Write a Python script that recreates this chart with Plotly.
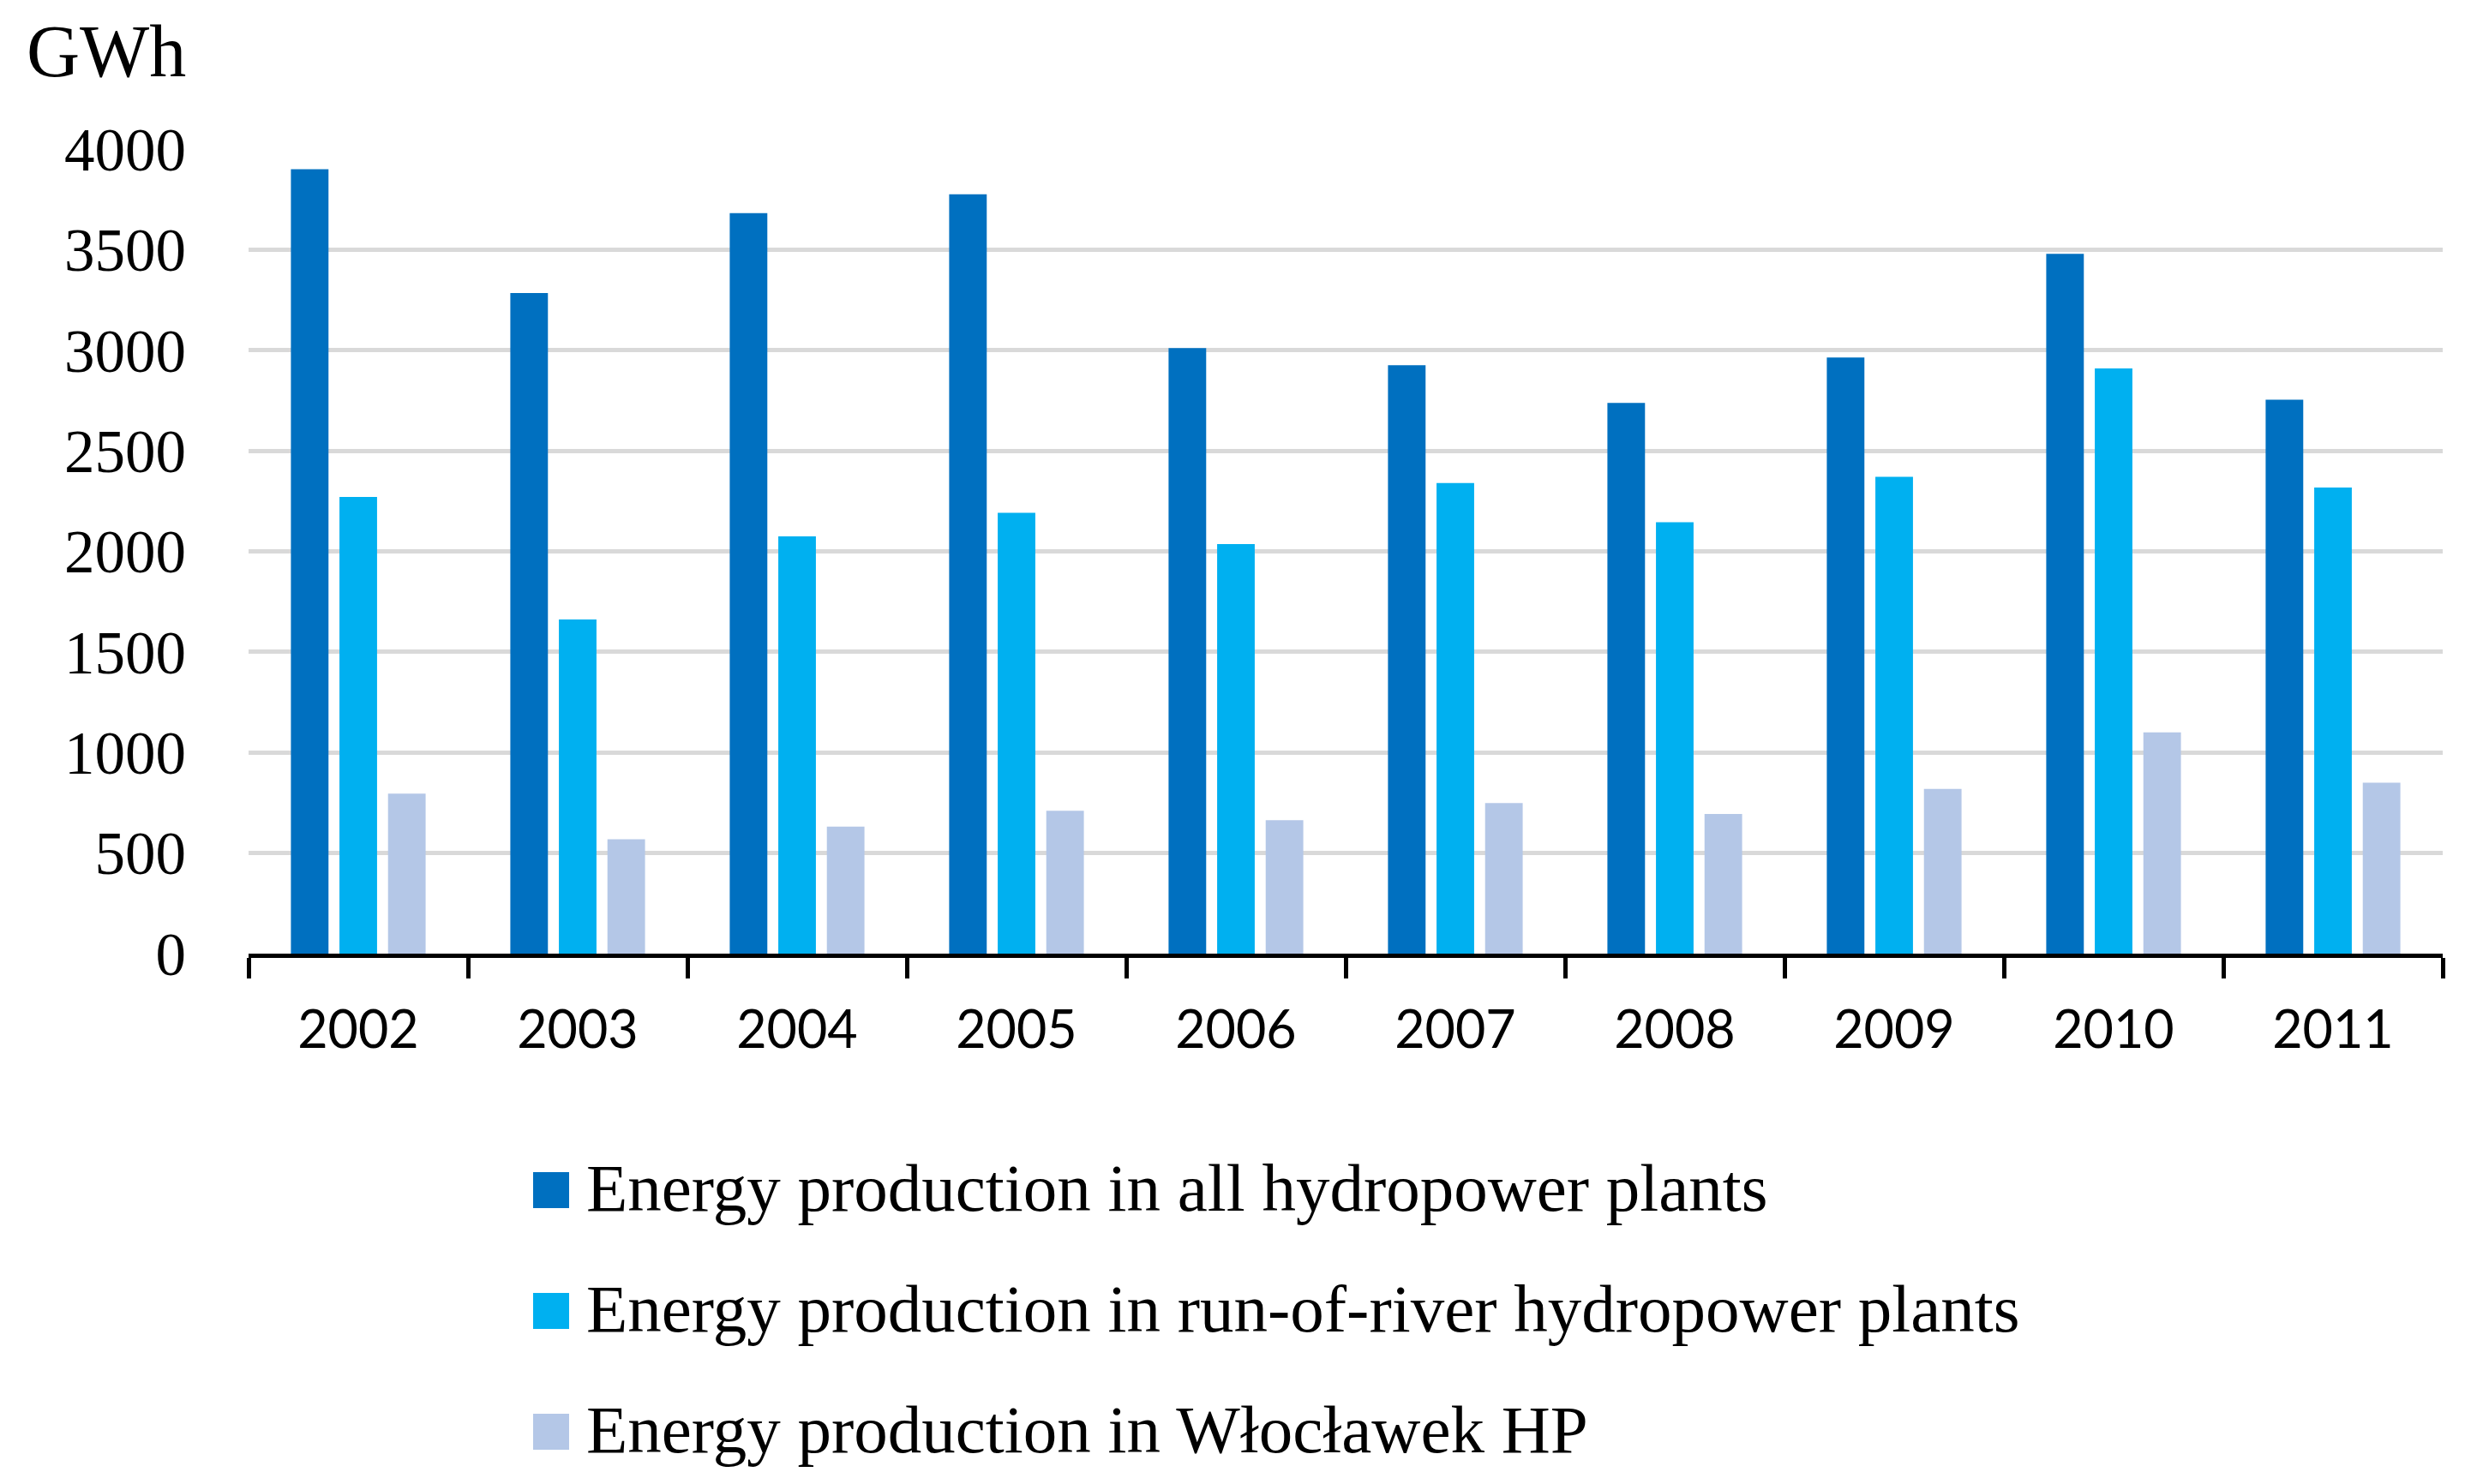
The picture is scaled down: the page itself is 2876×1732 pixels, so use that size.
import plotly.graph_objects as go

years = ["2002", "2003", "2004", "2005", "2006", "2007", "2008", "2009", "2010", "2011"]
all_hp = [3900, 3284, 3682, 3775, 3011, 2925, 2738, 2964, 3479, 2754]
run_of_river = [2270, 1661, 2075, 2192, 2036, 2340, 2145, 2371, 2910, 2317]
wloclawek = [796, 569, 632, 710, 663, 749, 694, 819, 1100, 850]
series_names = [
    "Energy production in all hydropower plants",
    "Energy production in run-of-river hydropower plants",
    "Energy production in Włocławek HP",
]
colors = ["#0070C0", "#00B0F0", "#B4C7E7"]
y_ticks = [0, 500, 1000, 1500, 2000, 2500, 3000, 3500, 4000]

W, H = 2876, 1732
OFF = 8  # page body margin offset
ML, MR, MT, MB = 290 - OFF, 26 + OFF, 174 - OFF, 619 + OFF
PW, PH = W - ML - MR, H - MT - MB

SERIF = "Liberation Serif"
SANS = "Lato"

fig = go.Figure()
for name, vals, col in zip(series_names, [all_hp, run_of_river, wloclawek], colors):
    fig.add_trace(go.Bar(x=years, y=vals, name=name, marker=dict(color=col, line=dict(width=0)),
                         showlegend=False))

def px_x(p):
    return (p - OFF - ML) / PW

def px_y(p):
    return (H - MB - (p - OFF)) / PH

# custom legend (large swatches as in the reference)
legend_rows = [1389, 1530, 1671]
sw = 42
for name, col, cy in zip(series_names, colors, legend_rows):
    fig.add_shape(type="rect", xref="paper", yref="paper",
                  x0=px_x(622), x1=px_x(622 + sw), y0=px_y(cy + sw / 2), y1=px_y(cy - sw / 2),
                  fillcolor=col, line=dict(width=0))
    fig.add_annotation(xref="paper", yref="paper", x=px_x(682), y=px_y(cy - 3),
                       text=name, showarrow=False, xanchor="left", yanchor="middle",
                       font=dict(family=SERIF, size=79, color="#000000"))

fig.add_annotation(xref="paper", yref="paper", x=px_x(218), y=px_y(60), text="GWh",
                   showarrow=False, xanchor="right", yanchor="middle", borderpad=0,
                   font=dict(family=SERIF, size=86, color="#000000"))

fig.update_layout(
    width=W, height=H,
    margin=dict(l=ML, r=MR, t=MT, b=MB, pad=0),
    paper_bgcolor="white", plot_bgcolor="white",
    barmode="group", bargap=0.336, bargroupgap=0.226,
)
fig.update_xaxes(
    type="category", showline=True, linecolor="#000000", linewidth=5,
    ticks="outside", tickson="boundaries", ticklen=24, tickwidth=5, tickcolor="#000000",
    showgrid=False, tickfont=dict(family=SANS, size=61, color="#000000"),
    ticklabelstandoff=32,
)
fig.update_yaxes(
    range=[0, 4000], tickvals=y_ticks, ticktext=[str(v) for v in y_ticks],
    showgrid=True, gridcolor="#D9D9D9", gridwidth=5, zeroline=False, showline=False,
    ticks="", tickfont=dict(family=SERIF, size=71, color="#000000"),
    ticklabelstandoff=72,
)

fig.write_html("out.html")
